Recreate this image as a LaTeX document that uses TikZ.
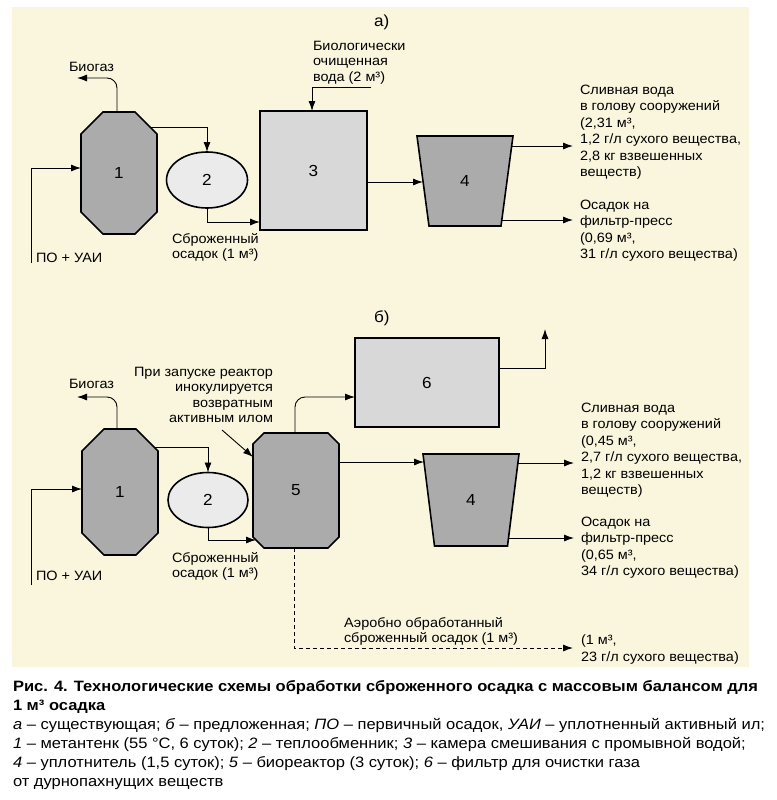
\documentclass[tikz,border=0pt]{standalone}
\usepackage{fontspec}
\setmainfont[FakeStretch=1.07]{Liberation Sans}
\newfontfamily\capfont[FakeStretch=1.10]{Liberation Sans}
\usetikzlibrary{arrows.meta,calc,backgrounds,shapes.geometric}
\definecolor{cream}{RGB}{249,246,221}
\definecolor{darkfill}{RGB}{171,171,171}
\definecolor{lightfill}{RGB}{235,235,235}
\definecolor{midfill}{RGB}{216,216,216}
\newcommand\chamf[3]{%
  \filldraw[shp, fill=#3] ($(#1.north west)+(#2,0)$) -- ($(#1.north east)+(-#2,0)$)
    -- ($(#1.north east)+(0,#2)$) -- ($(#1.south east)+(0,-#2)$)
    -- ($(#1.south east)+(-#2,0)$) -- ($(#1.south west)+(#2,0)$)
    -- ($(#1.south west)+(0,-#2)$) -- ($(#1.north west)+(0,#2)$) -- cycle;}
\newcommand\trapz[2]{%
  \filldraw[shp, fill=darkfill] (#1.north west) -- (#1.north east)
    -- ($(#1.south east)+(-#2,0)$) -- ($(#1.south west)+(#2,0)$) -- cycle;}
\begin{document}
\begin{tikzpicture}[x=1pt,y=-1pt,
  every node/.style={inner sep=0pt, outer sep=0pt},
  arr/.style={draw, line width=0.9pt, -{Latex[length=10pt,width=7pt]}},
  shp/.style={draw, line width=1.6pt},
  num/.style={font=\fontsize{16}{19}\selectfont},
  lbl/.style={font=\fontsize{13.5}{16.4}\selectfont, align=left, anchor=north west},
  lbls/.style={font=\fontsize{13.5}{15.4}\selectfont, align=left, anchor=north west},
  one/.style={font=\fontsize{13.5}{16}\selectfont, anchor=base west},
  tag/.style={font=\fontsize{16}{19}\selectfont, anchor=base west}]
\useasboundingbox (0,0) rectangle (776,800);

% ---------- nodes (a)
\node[num, minimum width=76pt, minimum height=122pt] (n1a) at (119,173) {1};
\node[num, ellipse, shp, fill=lightfill, minimum width=81pt, minimum height=56pt] (n2a) at (207,180) {2};
\node[num, rectangle, shp, fill=midfill, minimum width=107pt, minimum height=119pt] (n3) at (313.5,170.5) {3};
\node[num, minimum width=96pt, minimum height=90pt] (n4a) at (465,181) {4};

% ---------- nodes (b)
\node[num, minimum width=76pt, minimum height=126pt] (n1b) at (120,492) {1};
\node[num, ellipse, shp, fill=lightfill, minimum width=80pt, minimum height=55pt] (n2b) at (208,500) {2};
\node[num, minimum width=86pt, minimum height=115pt] (n5) at (296,490.5) {5};
\node[num, rectangle, shp, fill=midfill, minimum width=144pt, minimum height=89pt] (n6) at (427,382.5) {6};
\node[num, minimum width=96pt, minimum height=92pt] (n4b) at (471,500) {4};

\begin{scope}[on background layer]
  \fill[cream] (12,7) rectangle (749,667);
  \chamf{n1a}{22}{darkfill}
  \chamf{n1b}{22}{darkfill}
  \chamf{n5}{11}{darkfill}
  \trapz{n4a}{12}
  \trapz{n4b}{11.5}
\end{scope}

% ---------- labels (a)
\node[tag] (ta) at (374,27) {а)};
\node[one] (bga-l) at (69,71.5) {Биогаз};
\node[one] (ina-l) at (36,262.5) {ПО + УАИ};
\node[lbls] (sba-l) at (172,233) {Сброженный\\осадок (1 м³)};
\node[lbls] (wa-l) at (313,41) {Биологически\\очищенная\\вода (2 м³)};
\node[lbl] (oa1-l) at (580,85) {Сливная вода\\в голову сооружений\\(2,31 м³,\\1,2 г/л сухого вещества,\\2,8 кг взвешенных\\веществ)};
\node[lbl] (oa2-l) at (580,200) {Осадок на\\фильтр-пресс\\(0,69 м³,\\31 г/л сухого вещества)};

% ---------- labels (b)
\node[tag] (tb) at (374,322) {б)};
\node[one] (bgb-l) at (69,388.5) {Биогаз};
\node[one] (inb-l) at (36,580.5) {ПО + УАИ};
\node[lbls] (sbb-l) at (172,552) {Сброженный\\осадок (1 м³)};
\node[lbls, align=right, anchor=north east] (inoc-l) at (273,367) {При запуске реактор\\инокулируется\\возвратным\\активным илом};
\node[lbl] (ob1-l) at (581,403) {Сливная вода\\в голову сооружений\\(0,45 м³,\\2,7 г/л сухого вещества,\\1,2 кг взвешенных\\веществ)};
\node[lbl] (ob2-l) at (581,517) {Осадок на\\фильтр-пресс\\(0,65 м³,\\34 г/л сухого вещества)};
\node[lbls] (aer-l) at (344,617) {Аэробно обработанный\\сброженный осадок (1 м³)};
\node[lbl] (ob3-l) at (581,635) {(1 м³,\\23 г/л сухого вещества)};

% ---------- free ends
\coordinate (bga) at (77,78);
\coordinate (ina) at (31,263);
\coordinate (wa) at (371,87);
\coordinate (oa1) at (573,146);
\coordinate (oa2) at (573,220);
\coordinate (bgb) at (77,397);
\coordinate (inb) at (31,585);
\coordinate (inoc) at (222,430);
\coordinate (ex6) at (545,329);
\coordinate (ob1) at (574,463);
\coordinate (ob2) at (574,538);
\coordinate (ob3) at (573,648);

% ---------- connectors (a)
\draw[arr, rounded corners=10pt] ($(n1a.north)+(-2,0)$) |- (bga);
\draw[arr] (ina) |- ($(n1a.west)+(0,-5)$);
\draw[arr] ($(n1a.north east)+(-7,15)$) -| (n2a.north);
\draw[arr] (n2a.south) |- ($(n3.west)+(0,51.5)$);
\draw[arr] (wa) -| ($(n3.north)+(-1.5,0)$);
\draw[arr] ($(n3.east)+(0,11.5)$) -- ($(n4a.west)+(6,1)$);
\draw[arr] ($(n4a.north east)+(-1.5,10)$) -- (oa1);
\draw[arr] ($(n4a.south east)+(-12.5,-6)$) -- (oa2);

% ---------- connectors (b)
\draw[arr, rounded corners=10pt] ($(n1b.north)+(-3,0)$) |- (bgb);
\draw[arr] (inb) |- ($(n1b.west)+(0,-3)$);
\draw[arr] ($(n1b.north east)+(-4,18)$) -| (n2b.north);
\draw[arr] (n2b.south) |- ($(n5.west)+(3,49.5)$);
\draw[arr] (inoc) -- ($(n5.west)+(0,-33.5)$);
\draw[arr, rounded corners=10pt] ($(n5.north)+(-1,0)$) |- ($(n6.west)+(0,14.5)$);
\draw[arr] ($(n6.east)+(0,-14.5)$) -| (ex6);
\draw[arr] ($(n5.east)+(0,-28.5)$) -- ($(n4b.west)+(1,-38)$);
\draw[arr] ($(n4b.north east)+(-1,9)$) -- (ob1);
\draw[arr] ($(n4b.south east)+(-11,-8)$) -- (ob2);
\draw[arr, dash pattern=on 4pt off 3pt] ($(n5.south)+(-2,0)$) |- (ob3);

% ---------- caption
\node[font=\capfont\fontsize{15}{19}\selectfont, align=left, anchor=north west] (cap) at (13,680)
 {\textbf{Рис. 4. Технологические схемы обработки сброженного осадка с массовым балансом для}\\
  \textbf{1 м³ осадка}\\
  \textit{а} – существующая; \textit{б} – предложенная; \textit{ПО} – первичный осадок, \textit{УАИ} – уплотненный активный ил;\\
  \textit{1} – метантенк (55 °C, 6 суток); \textit{2} – теплообменник; \textit{3} – камера смешивания с промывной водой;\\
  \textit{4} – уплотнитель (1,5 суток); \textit{5} – биореактор (3 суток); \textit{6} – фильтр для очистки газа\\
  от дурнопахнущих веществ};
\end{tikzpicture}
\end{document}
